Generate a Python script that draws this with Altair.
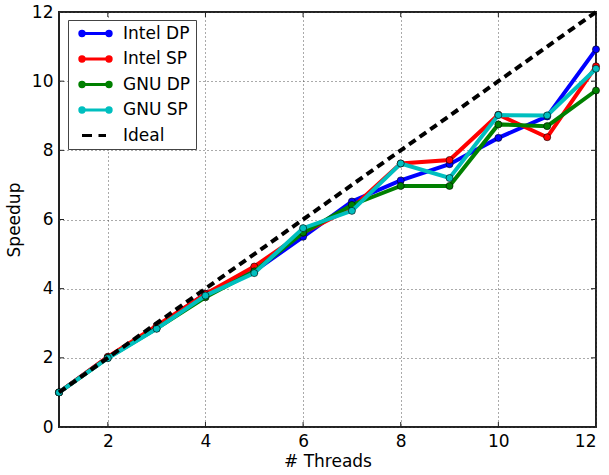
import altair as alt
import pandas as pd

threads = [1, 2, 3, 4, 5, 6, 7, 8, 9, 10, 11, 12]
intel_dp = [1.0, 2.02, 2.87, 3.85, 4.50, 5.50, 6.52, 7.13, 7.60, 8.36, 8.98, 10.92]
intel_sp = [1.0, 2.03, 2.93, 3.85, 4.64, 5.62, 6.33, 7.62, 7.72, 9.03, 8.38, 10.43]
gnu_dp = [1.0, 2.00, 2.85, 3.75, 4.50, 5.62, 6.42, 6.97, 6.97, 8.75, 8.70, 9.73]
gnu_sp = [1.0, 1.99, 2.84, 3.80, 4.45, 5.75, 6.25, 7.62, 7.20, 9.02, 9.01, 10.36]
ideal = [1, 2, 3, 4, 5, 6, 7, 8, 9, 10, 11, 12]

series_names = ["Intel DP", "Intel SP", "GNU DP", "GNU SP", "Ideal"]
series_colors = ["#0000ff", "#ff0000", "#008000", "#00bfbf", "#000000"]

x_tick_values = [2, 4, 6, 8, 10, 12]
y_tick_values = [0, 2, 4, 6, 8, 10, 12]
x_inner_ticks = [2, 4, 6, 8, 10]
y_inner_ticks = [2, 4, 6, 8, 10]

# legend glyphs (unit box, scaled by symbol size)
marker_path = ("M-2.7,0L2.7,0"
               "M-2.26,0A0.44,0.44,0,1,1,-3.14,0A0.44,0.44,0,1,1,-2.26,0Z"
               "M3.14,0A0.44,0.44,0,1,1,2.26,0A0.44,0.44,0,1,1,3.14,0Z")
dash_path = "M-2.7,0L-0.7,0M0.6,0L2.1,0M0,-0.44L0,-0.44M0,0.44L0,0.44"
shape_range = [marker_path, marker_path, marker_path, marker_path, dash_path]

rows = []
for name, vals in zip(series_names, [intel_dp, intel_sp, gnu_dp, gnu_sp, ideal]):
    for t, v in zip(threads, vals):
        rows.append({"threads": t, "speedup": v, "series": name})
df = pd.DataFrame(rows)
xt_df = pd.DataFrame({"threads": x_inner_ticks})
yt_df = pd.DataFrame({"speedup": y_inner_ticks})

color_scale = alt.Scale(domain=series_names, range=series_colors)
shape_scale = alt.Scale(domain=series_names, range=shape_range)

x_enc = alt.X("threads:Q", scale=alt.Scale(domain=[1, 12], nice=False),
              axis=alt.Axis(values=x_tick_values, title="# Threads"))
y_enc = alt.Y("speedup:Q", scale=alt.Scale(domain=[0, 12], nice=False),
              axis=alt.Axis(values=y_tick_values, title="Speedup"))

base = alt.Chart(df)

legend = alt.Legend(
    title=None, orient="none", legendX=9, legendY=8,
    padding=5, symbolOffset=14, symbolSize=100, labelOffset=19,
    rowPadding=7.5, labelFontSize=17, labelFont="DejaVu Sans", labelColor="#000",
    strokeColor="#444", fillColor="#ffffff",
    symbolStrokeWidth=3, symbolOpacity=1)

legend_layer = base.mark_point(filled=False, opacity=0).encode(
    x=x_enc, y=y_enc,
    color=alt.Color("series:N", scale=color_scale, legend=legend),
    shape=alt.Shape("series:N", scale=shape_scale, legend=legend))

tick_style = dict(color="#222222", strokeWidth=1)
ticks = [
    alt.Chart(xt_df).mark_rule(**tick_style).encode(x=x_enc, y=alt.value(415), y2=alt.value(410)),
    alt.Chart(xt_df).mark_rule(**tick_style).encode(x=x_enc, y=alt.value(0), y2=alt.value(5)),
    alt.Chart(yt_df).mark_rule(**tick_style).encode(y=y_enc, x=alt.value(0), x2=alt.value(5)),
    alt.Chart(yt_df).mark_rule(**tick_style).encode(y=y_enc, x=alt.value(537), x2=alt.value(532)),
]

layers = [legend_layer] + ticks
for name in series_names[:4]:
    sub = base.transform_filter(alt.datum.series == name)
    layers.append(sub.mark_line(strokeWidth=4).encode(
        x=x_enc, y=y_enc,
        color=alt.Color("series:N", scale=color_scale, legend=None)))
    layers.append(sub.mark_circle(size=50, opacity=1, stroke="#000000", strokeWidth=0.6).encode(
        x=x_enc, y=y_enc,
        color=alt.Color("series:N", scale=color_scale, legend=None)))

ideal_layer = base.transform_filter(alt.datum.series == "Ideal").mark_line(
    strokeWidth=4, strokeDash=[8, 5]).encode(
    x=x_enc, y=y_enc,
    color=alt.Color("series:N", scale=color_scale, legend=None))
layers.append(ideal_layer)

chart = alt.layer(*layers).properties(
    width=537, height=415,
    autosize=alt.AutoSizeParams(type="none"),
    padding={"left": 59, "top": 12, "right": 13, "bottom": 48},
).configure_view(
    stroke="#222222", strokeWidth=2
).configure_axis(
    domain=False, ticks=False,
    labelFont="DejaVu Sans", labelFontSize=17, labelColor="#000",
    labelPadding=6,
    titleFont="DejaVu Sans", titleFontSize=17, titleFontWeight="normal", titleColor="#000",
    grid=True, gridColor="#444444", gridDash=[1, 3], gridWidth=1, gridOpacity=0.9,
).configure_axisX(titlePadding=4).configure_axisY(titlePadding=8)

chart.save("out.html", embed_options={"renderer": "svg", "actions": False})
